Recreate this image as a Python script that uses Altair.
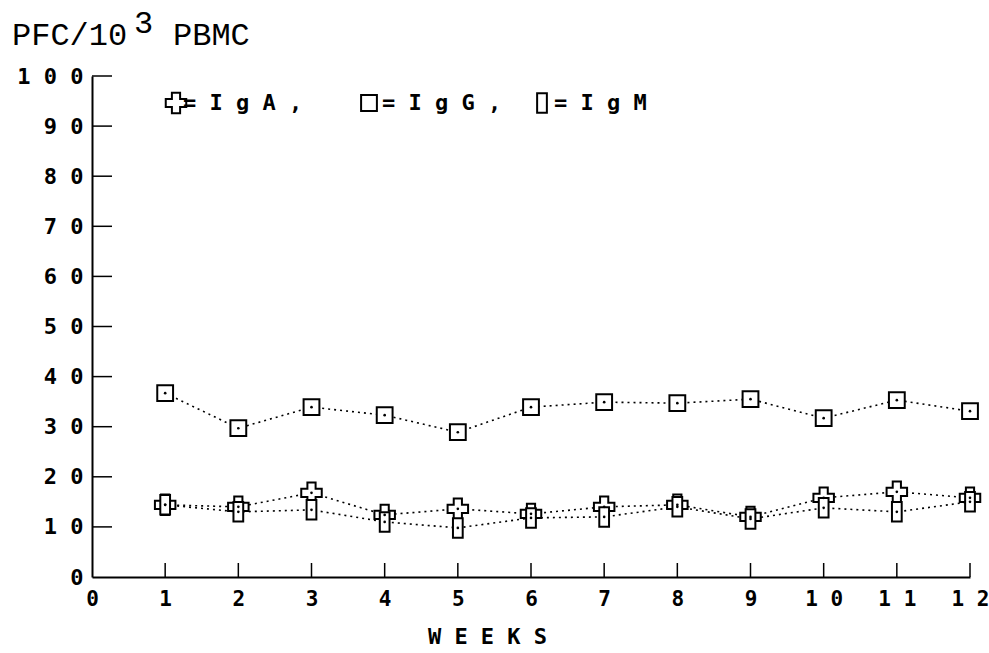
import altair as alt
import pandas as pd

# Plaque-forming cells per 10^3 PBMC, by week
weeks = list(range(1, 13))
iga = [14.4, 14.0, 16.8, 12.4, 13.6, 12.6, 14.0, 14.4, 12.0, 15.8, 17.0, 15.8]
igg = [36.7, 29.7, 33.9, 32.3, 28.9, 33.9, 34.9, 34.7, 35.5, 31.7, 35.3, 33.1]
igm = [14.4, 13.0, 13.4, 11.0, 9.8, 11.8, 12.0, 14.0, 11.6, 13.8, 13.0, 15.0]

x_ticks = list(range(0, 13))
y_ticks = list(range(0, 101, 10))

W, H = 878, 501
FONT = "DejaVu Sans Mono"

rows = []
for name, vals in (("IgA", iga), ("IgG", igg), ("IgM", igm)):
    for w, v in zip(weeks, vals):
        rows.append({"week": w, "value": v, "series": name})
df = pd.DataFrame(rows)

x_scale = alt.Scale(domain=[0, 12], nice=False, zero=False)
y_scale = alt.Scale(domain=[0, 100], nice=False)

# spread the digits apart for a blocky, spaced-out look
label_expr = "join(split(format(datum.value, 'd'), ''), ' ')"

base = alt.Chart(df).encode(
    x=alt.X("week:Q", scale=x_scale,
            axis=alt.Axis(values=x_ticks, labelExpr=label_expr, title="W E E K S",
                          titleX=395, titleY=59, titleAlign="center",
                          titleBaseline="middle", titleFont=FONT,
                          titleFontSize=22, titleFontWeight="bold", labelPadding=11,
                          labelFontSize=21, labelFlush=False, labelOverlap=False)),
    y=alt.Y("value:Q", scale=y_scale,
            axis=alt.Axis(values=y_ticks, labelExpr=label_expr, title=None,
                          labelPadding=9, labelOverlap=False)),
)

lines = base.mark_line(color="black", strokeWidth=1.6, strokeDash=[2, 4]).encode(
    detail="series:N"
)

RECT_TALL = "M-0.5,-1H0.5V1H-0.5Z"


def markers(name, shape, size):
    return base.transform_filter(alt.datum.series == name).mark_point(
        shape=shape, size=size, filled=True, fill="white", stroke="black",
        strokeWidth=2, opacity=1
    )


pts_a = markers("IgA", "cross", 420)
pts_g = markers("IgG", "square", 250)
pts_m = markers("IgM", RECT_TALL, 380)
dots = base.mark_point(shape="circle", size=7, filled=True, color="black", opacity=1)

# inward tick marks
ytick_df = pd.DataFrame({"v": y_ticks[1:]})
xtick_df = pd.DataFrame({"v": x_ticks[1:]})
yticks = alt.Chart(ytick_df).mark_rule(color="black", strokeWidth=1.5).encode(
    y=alt.Y("v:Q", scale=y_scale), x=alt.value(0), x2=alt.value(20)
)
xticks = alt.Chart(xtick_df).mark_rule(color="black", strokeWidth=1.5).encode(
    x=alt.X("v:Q", scale=x_scale), y=alt.value(H), y2=alt.value(H - 14)
)

# key drawn inside the plot
LEG_Y = 27
key_marks = []
for name, shape, size, px in (("IgA", "cross", 420, 84),
                              ("IgG", "square", 250, 277),
                              ("IgM", RECT_TALL, 380, 450)):
    one = pd.DataFrame({"s": [name]})
    key_marks.append(
        alt.Chart(one).mark_point(shape=shape, size=size, filled=True, fill="white",
                                  stroke="black", strokeWidth=2, opacity=1)
        .encode(x=alt.value(px), y=alt.value(LEG_Y))
    )
key_text = {"IgA": "=IgA,", "IgG": "=IgG,", "IgM": "=IgM"}
for name, px in (("IgA", 91), ("IgG", 290), ("IgM", 462)):
    one = pd.DataFrame({"t": [" ".join(key_text[name])]})
    key_marks.append(
        alt.Chart(one).mark_text(align="left", baseline="middle", font=FONT,
                                 fontSize=22, fontWeight="bold", color="black")
        .encode(x=alt.value(px), y=alt.value(LEG_Y), text="t:N")
    )

# y-axis caption with raised exponent
cap_parts = [("PFC/10", -80, -31), ("3", 42, -43), ("PBMC", 81, -31)]
caption = []
for txt, px, py in cap_parts:
    one = pd.DataFrame({"t": [txt]})
    caption.append(
        alt.Chart(one).mark_text(align="left", baseline="alphabetic",
                                 font="Liberation Mono", fontSize=32, color="black")
        .encode(x=alt.value(px), y=alt.value(py), text="t:N")
    )

chart = alt.layer(
    lines, pts_a, pts_g, pts_m, dots, yticks, xticks, *key_marks, *caption
).properties(
    width=W, height=H,
    autosize=alt.AutoSizeParams(type="none"),
    padding={"left": 92, "top": 76, "right": 19, "bottom": 76},
    background="white",
).configure_view(stroke=None).configure_axis(
    domainColor="black", domainWidth=2, ticks=False, grid=False,
    labelFont=FONT, labelFontSize=22, labelFontWeight="bold", labelColor="black",
    titleColor="black",
)

chart.save("out.html", embed_options={"renderer": "svg", "actions": False})
